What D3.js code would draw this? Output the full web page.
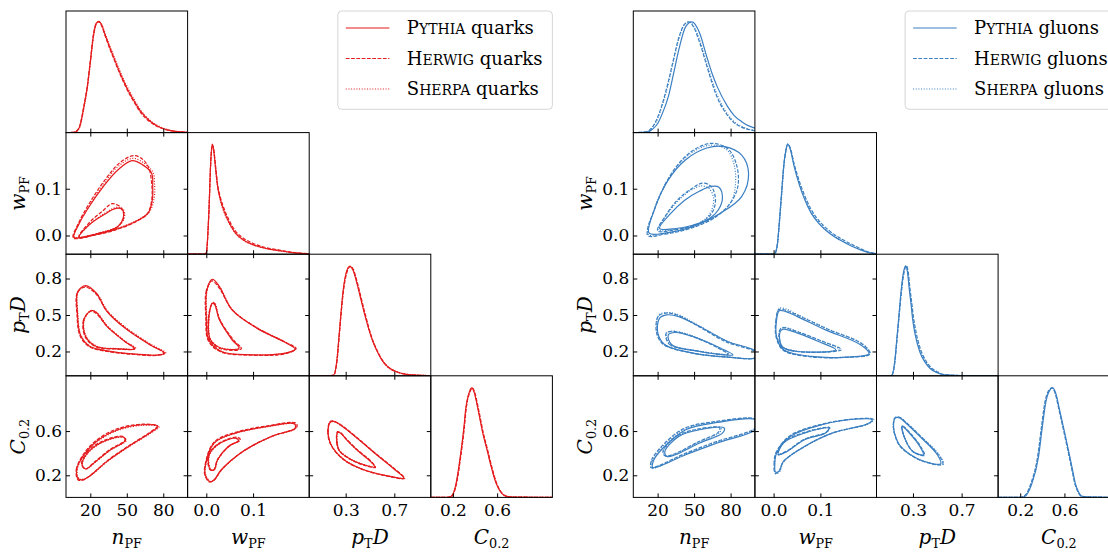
<!DOCTYPE html>
<html><head><meta charset="utf-8">
<script src="https://cdn.jsdelivr.net/npm/d3@7"></script>
<style>body{margin:0;background:#fff}</style></head>
<body><svg id="c" width="1108" height="554"></svg>
<script>
// ---------- axes ----------
const varDomains = [[0,100],[-0.04,0.22],[0,1],[0,1.1]];
const xTickValues = [[20,50,80],[0.0,0.1],[0.3,0.7],[0.2,0.6]];
const yTickValues = [[],[0.0,0.1],[0.2,0.5,0.8],[0.2,0.6]];
const generators = [["P","YTHIA"],["H","ERWIG"],["S","HERPA"]];

// ---------- 1D densities (fraction of panel height) ----------
const qN_P=[[0,0],[7,0.003],[10.9,0.04],[14.7,0.21],[17.6,0.38],[20,0.58],[22.6,0.8],[25,0.9],[27,0.915],[29.6,0.88],[32,0.81],[36,0.7],[40,0.6],[44,0.5],[48,0.41],[52,0.33],[56,0.26],[61,0.18],[69,0.095],[75,0.055],[81,0.03],[90,0.01],[100,0.003]];
const qN_H=[[0,0],[7,0.004],[10.9,0.045],[14.7,0.22],[17.6,0.39],[20,0.59],[22.6,0.81],[25,0.9],[27,0.91],[29.6,0.87],[32,0.8],[36,0.69],[40,0.59],[44,0.49],[48,0.4],[52,0.32],[56,0.25],[61,0.17],[69,0.088],[75,0.05],[81,0.027],[90,0.009],[100,0.003]];
const qN_S=[[0,0],[7,0.003],[10.9,0.035],[14.7,0.2],[17.6,0.37],[20,0.57],[22.6,0.79],[25,0.89],[27,0.91],[29.6,0.885],[32,0.82],[36,0.715],[40,0.615],[44,0.515],[48,0.425],[52,0.345],[56,0.275],[61,0.19],[69,0.102],[75,0.06],[81,0.033],[90,0.011],[100,0.003]];
const qW_P=[[-0.04,0],[-0.003,0],[0.0,0.01],[0.005,0.3],[0.01,0.8],[0.0128,0.905],[0.016,0.85],[0.02,0.7],[0.0243,0.556],[0.03,0.45],[0.0395,0.338],[0.05,0.25],[0.0624,0.173],[0.08,0.115],[0.1006,0.077],[0.13,0.045],[0.154,0.03],[0.18,0.015],[0.21,0.005],[0.22,0.003]];
const qW_H=[[-0.04,0],[-0.003,0],[0.0,0.01],[0.005,0.29],[0.01,0.79],[0.0128,0.9],[0.016,0.86],[0.02,0.72],[0.0243,0.57],[0.03,0.47],[0.0395,0.36],[0.05,0.27],[0.0624,0.19],[0.08,0.13],[0.1006,0.088],[0.13,0.052],[0.154,0.035],[0.18,0.018],[0.21,0.006],[0.22,0.003]];
const qW_S=[[-0.04,0],[-0.003,0],[0.0,0.012],[0.005,0.31],[0.01,0.8],[0.0128,0.9],[0.016,0.84],[0.02,0.69],[0.0243,0.55],[0.03,0.44],[0.0395,0.33],[0.05,0.245],[0.0624,0.17],[0.08,0.113],[0.1006,0.076],[0.13,0.045],[0.154,0.03],[0.18,0.015],[0.21,0.005],[0.22,0.003]];
const qP_P=[[0,0],[0.15,0],[0.2,0.005],[0.23,0.15],[0.245,0.323],[0.26,0.5],[0.274,0.652],[0.3,0.83],[0.333,0.9],[0.36,0.87],[0.39,0.77],[0.42,0.65],[0.46,0.49],[0.509,0.323],[0.55,0.22],[0.597,0.131],[0.65,0.07],[0.714,0.035],[0.8,0.012],[0.92,0.004],[1,0.002]];
const qP_H=[[0,0],[0.15,0],[0.2,0.004],[0.23,0.13],[0.245,0.3],[0.26,0.48],[0.274,0.63],[0.3,0.81],[0.34,0.9],[0.365,0.87],[0.395,0.77],[0.425,0.65],[0.465,0.49],[0.512,0.323],[0.553,0.22],[0.6,0.131],[0.652,0.07],[0.716,0.035],[0.8,0.012],[0.92,0.004],[1,0.002]];
const qP_S=[[0,0],[0.15,0],[0.2,0.005],[0.23,0.145],[0.245,0.318],[0.26,0.495],[0.274,0.648],[0.3,0.828],[0.335,0.9],[0.362,0.87],[0.392,0.77],[0.422,0.65],[0.462,0.49],[0.51,0.323],[0.551,0.22],[0.598,0.131],[0.65,0.07],[0.714,0.035],[0.8,0.012],[0.92,0.004],[1,0.002]];
const qC_P=[[0,0],[0.15,0],[0.186,0.01],[0.23,0.12],[0.267,0.337],[0.3,0.58],[0.315,0.72],[0.35,0.87],[0.371,0.9],[0.39,0.87],[0.428,0.72],[0.47,0.53],[0.509,0.39],[0.55,0.24],[0.59,0.118],[0.64,0.035],[0.687,0.008],[0.75,0.002],[1.1,0.001]];
const qC_H=[[0,0],[0.15,0],[0.19,0.01],[0.234,0.12],[0.271,0.337],[0.304,0.58],[0.319,0.72],[0.355,0.87],[0.376,0.9],[0.395,0.87],[0.433,0.72],[0.475,0.53],[0.514,0.39],[0.555,0.24],[0.595,0.118],[0.645,0.035],[0.692,0.008],[0.75,0.002],[1.1,0.001]];
const qC_S=[[0,0],[0.15,0],[0.188,0.01],[0.232,0.12],[0.269,0.337],[0.302,0.58],[0.317,0.72],[0.352,0.87],[0.373,0.9],[0.392,0.87],[0.43,0.72],[0.472,0.53],[0.511,0.39],[0.552,0.24],[0.592,0.118],[0.642,0.035],[0.69,0.008],[0.75,0.002],[1.1,0.001]];

const gN_P=[[0,0],[8,0.002],[11.6,0.005],[16,0.03],[20.2,0.077],[24,0.16],[28.8,0.296],[33,0.48],[37.4,0.68],[43.1,0.871],[48.3,0.91],[54.6,0.817],[60.4,0.624],[65,0.48],[69,0.378],[77.6,0.214],[83,0.14],[89.1,0.09],[95,0.055],[100,0.036]];
const gN_H=[[0,0],[8,0.003],[11.6,0.01],[16,0.05],[20.2,0.13],[24,0.24],[28.8,0.42],[33,0.6],[37.4,0.78],[42,0.89],[45.5,0.91],[50,0.86],[54.6,0.74],[60.4,0.55],[65,0.4],[69,0.29],[77.6,0.14],[83,0.08],[89.1,0.045],[95,0.025],[100,0.015]];
const gN_S=[[0,0],[8,0.003],[11.6,0.009],[16,0.045],[20.2,0.12],[24,0.23],[28.8,0.4],[33,0.59],[37.4,0.77],[42,0.885],[46,0.91],[50,0.87],[54.6,0.76],[60.4,0.57],[65,0.42],[69,0.31],[77.6,0.15],[83,0.09],[89.1,0.05],[95,0.028],[100,0.017]];
const gW_P=[[-0.04,0],[0.0,0],[0.0027,0.005],[0.008,0.08],[0.0138,0.338],[0.018,0.55],[0.0215,0.72],[0.026,0.85],[0.0303,0.905],[0.035,0.87],[0.044,0.72],[0.055,0.57],[0.0667,0.447],[0.08,0.34],[0.096,0.256],[0.12,0.17],[0.141,0.118],[0.165,0.07],[0.186,0.036],[0.205,0.012],[0.22,0.004]];
const gW_H=[[-0.04,0],[0.0,0],[0.0027,0.006],[0.008,0.085],[0.0138,0.34],[0.018,0.55],[0.0215,0.72],[0.026,0.85],[0.0303,0.905],[0.035,0.88],[0.044,0.74],[0.055,0.6],[0.0667,0.48],[0.08,0.37],[0.096,0.28],[0.12,0.19],[0.141,0.135],[0.165,0.085],[0.186,0.045],[0.205,0.016],[0.22,0.005]];
const gW_S=[[-0.04,0],[0.0,0],[0.0027,0.004],[0.008,0.07],[0.0138,0.31],[0.018,0.52],[0.0215,0.7],[0.026,0.84],[0.031,0.905],[0.036,0.87],[0.045,0.72],[0.056,0.575],[0.0667,0.46],[0.08,0.35],[0.096,0.265],[0.12,0.178],[0.141,0.124],[0.165,0.074],[0.186,0.038],[0.205,0.013],[0.22,0.004]];
const gP_P=[[0,0],[0.1,0],[0.126,0.005],[0.15,0.12],[0.169,0.323],[0.185,0.5],[0.198,0.652],[0.22,0.84],[0.241,0.904],[0.255,0.85],[0.27,0.707],[0.285,0.58],[0.298,0.46],[0.32,0.33],[0.355,0.2],[0.4,0.11],[0.441,0.06],[0.5,0.025],[0.556,0.008],[0.7,0.002],[1,0]];
const gP_H=[[0,0],[0.1,0],[0.126,0.004],[0.15,0.1],[0.169,0.3],[0.185,0.48],[0.2,0.64],[0.223,0.83],[0.245,0.904],[0.26,0.86],[0.275,0.72],[0.29,0.6],[0.303,0.49],[0.325,0.36],[0.36,0.225],[0.405,0.125],[0.446,0.07],[0.505,0.03],[0.56,0.01],[0.7,0.002],[1,0]];
const gP_S=[[0,0],[0.1,0],[0.126,0.004],[0.15,0.11],[0.169,0.31],[0.185,0.49],[0.199,0.645],[0.222,0.835],[0.243,0.904],[0.258,0.855],[0.273,0.715],[0.288,0.59],[0.301,0.475],[0.323,0.345],[0.358,0.215],[0.403,0.12],[0.444,0.066],[0.503,0.028],[0.558,0.009],[0.7,0.002],[1,0]];
const gC_P=[[0,0],[0.2,0],[0.24,0.008],[0.3,0.1],[0.366,0.337],[0.4,0.58],[0.43,0.776],[0.46,0.87],[0.493,0.9],[0.52,0.86],[0.556,0.72],[0.6,0.54],[0.635,0.392],[0.67,0.24],[0.698,0.118],[0.73,0.04],[0.761,0.008],[0.85,0.002],[1.1,0.001]];
const gC_H=[[0,0],[0.2,0],[0.235,0.01],[0.295,0.11],[0.36,0.35],[0.395,0.6],[0.425,0.79],[0.455,0.875],[0.488,0.9],[0.515,0.86],[0.551,0.72],[0.595,0.54],[0.63,0.392],[0.665,0.24],[0.693,0.118],[0.725,0.04],[0.756,0.008],[0.85,0.002],[1.1,0.001]];
const gC_S=[[0,0],[0.2,0],[0.237,0.01],[0.297,0.105],[0.362,0.345],[0.397,0.59],[0.427,0.785],[0.457,0.872],[0.49,0.9],[0.517,0.86],[0.553,0.72],[0.597,0.54],[0.632,0.392],[0.667,0.24],[0.695,0.118],[0.727,0.04],[0.758,0.008],[0.85,0.002],[1.1,0.001]];

// ---------- 2D contours (outer / inner), quarks ----------
const qNW_P_out=[[6.5,-0.004],[22,0.001],[39.6,0.012],[57.2,0.03],[67.5,0.048],[71,0.076],[71.3,0.105],[70.4,0.133],[63.1,0.151],[54.3,0.16],[42.6,0.14],[30.8,0.105],[19.1,0.062],[10.3,0.023]];
const qNW_H_out=[[6,-0.005],[22,0.0],[39.6,0.011],[57.2,0.029],[67,0.047],[70.5,0.076],[70.5,0.11],[68,0.145],[63,0.163],[56,0.171],[44,0.155],[31,0.115],[19,0.068],[10,0.025]];
const qNW_S_out=[[7,-0.003],[22,0.002],[39.6,0.013],[57.2,0.031],[68.5,0.05],[72.5,0.08],[72.8,0.11],[71.5,0.135],[64,0.155],[55,0.165],[43,0.148],[31,0.11],[19.5,0.065],[10.5,0.024]];
const qNW_P_in=[[10.9,-0.0035],[27.9,0.005],[42.6,0.019],[47,0.037],[46.4,0.055],[41.1,0.058],[30.8,0.044],[19.1,0.023]];
const qNW_H_in=[[10.5,-0.004],[28,0.005],[43,0.02],[47.5,0.04],[45,0.06],[38,0.068],[30,0.052],[19,0.027]];
const qNW_S_in=[[11,-0.003],[28,0.006],[43,0.02],[48,0.038],[47,0.056],[41.5,0.06],[31,0.046],[19.5,0.024]];
const qNP_P_out=[[16.2,0.742],[9.7,0.693],[9.4,0.515],[11.8,0.337],[19.1,0.246],[33.8,0.205],[57.2,0.178],[74.8,0.17],[81.3,0.186],[69,0.255],[48.5,0.392],[33.8,0.528],[25,0.679]];
const qNP_H_out=[[15.5,0.73],[9.2,0.68],[9,0.51],[11.5,0.33],[19,0.24],[33.8,0.2],[57.2,0.175],[75,0.168],[80.5,0.185],[68.5,0.26],[48,0.4],[33.5,0.535],[24.5,0.675]];
const qNP_S_out=[[16.5,0.735],[10,0.69],[9.8,0.51],[12.2,0.335],[19.5,0.245],[34,0.203],[57.5,0.177],[75.5,0.17],[82,0.188],[70,0.258],[49.5,0.395],[34.5,0.53],[25.5,0.675]];
const qNP_P_in=[[20.6,0.537],[14.7,0.46],[16.2,0.323],[25,0.241],[42.6,0.222],[56.6,0.222],[48.5,0.282],[33.8,0.405],[25,0.52]];
const qNP_H_in=[[20,0.53],[14.3,0.455],[15.8,0.32],[24.5,0.238],[42.6,0.22],[56,0.222],[48,0.285],[33.5,0.41],[24.5,0.515]];
const qNP_S_in=[[21,0.535],[15,0.46],[16.5,0.325],[25.5,0.243],[43,0.224],[57.5,0.224],[49,0.283],[34.5,0.405],[25.5,0.52]];
const qWP_P_out=[[0.013,0.794],[0.0013,0.707],[0,0.487],[0.005,0.296],[0.032,0.2],[0.093,0.173],[0.169,0.186],[0.19,0.219],[0.169,0.274],[0.108,0.392],[0.055,0.542],[0.028,0.734]];
const qWP_H_out=[[0.012,0.78],[0.0,0.7],[-0.001,0.48],[0.004,0.29],[0.03,0.198],[0.093,0.17],[0.17,0.182],[0.192,0.225],[0.172,0.27],[0.11,0.39],[0.056,0.54],[0.027,0.725]];
const qWP_S_out=[[0.014,0.79],[0.002,0.705],[0.001,0.485],[0.006,0.295],[0.033,0.2],[0.095,0.173],[0.171,0.187],[0.191,0.222],[0.17,0.276],[0.109,0.394],[0.056,0.544],[0.029,0.73]];
const qWP_P_in=[[0.0128,0.597],[0.005,0.46],[0.009,0.296],[0.032,0.227],[0.07,0.227],[0.055,0.296],[0.028,0.46],[0.017,0.597]];
const qWP_H_in=[[0.012,0.59],[0.004,0.455],[0.008,0.29],[0.031,0.222],[0.075,0.222],[0.058,0.295],[0.029,0.46],[0.017,0.59]];
const qWP_S_in=[[0.013,0.6],[0.0055,0.46],[0.0095,0.298],[0.033,0.228],[0.072,0.228],[0.056,0.298],[0.029,0.462],[0.018,0.6]];
const qNC_P_out=[[10.3,0.166],[8.8,0.25],[14.7,0.386],[25,0.506],[42.6,0.612],[63.1,0.657],[75.7,0.642],[69,0.582],[51.4,0.461],[33.8,0.326],[19.1,0.19],[13.8,0.16]];
const qNC_H_out=[[9.8,0.16],[8.4,0.25],[14.3,0.39],[24.5,0.512],[42,0.62],[63,0.662],[75,0.645],[68.5,0.585],[51,0.463],[33.5,0.328],[19,0.19],[13.5,0.155]];
const qNC_S_out=[[10.6,0.17],[9.2,0.25],[15,0.385],[25.5,0.503],[43,0.608],[63.5,0.652],[76.5,0.64],[69.5,0.58],[52,0.46],[34,0.325],[19.5,0.192],[14,0.163]];
const qNC_P_in=[[13.2,0.296],[17.6,0.401],[30.8,0.506],[47,0.546],[49,0.515],[36.7,0.431],[23.5,0.316],[16.2,0.257]];
const qNC_H_in=[[12.8,0.3],[17.2,0.408],[30.5,0.512],[46.5,0.552],[48.5,0.52],[36.3,0.434],[23.2,0.318],[15.8,0.258]];
const qNC_S_in=[[13.5,0.295],[18,0.4],[31,0.503],[47.5,0.543],[49.5,0.513],[37,0.43],[23.8,0.315],[16.5,0.257]];
const qWC_P_out=[[0.008,0.142],[-0.002,0.2],[-0.0024,0.28],[0.0166,0.492],[0.062,0.582],[0.131,0.642],[0.188,0.666],[0.19,0.627],[0.139,0.551],[0.078,0.416],[0.032,0.25],[0.017,0.16]];
const qWC_H_out=[[0.007,0.14],[-0.003,0.2],[-0.003,0.285],[0.016,0.498],[0.062,0.588],[0.131,0.648],[0.192,0.672],[0.193,0.632],[0.14,0.553],[0.079,0.418],[0.033,0.252],[0.017,0.158]];
const qWC_S_out=[[0.009,0.145],[-0.001,0.2],[-0.0015,0.28],[0.017,0.49],[0.063,0.58],[0.132,0.64],[0.189,0.664],[0.191,0.625],[0.14,0.55],[0.079,0.415],[0.033,0.25],[0.018,0.162]];
const qWC_P_in=[[0.009,0.25],[0.005,0.371],[0.024,0.476],[0.062,0.537],[0.0686,0.515],[0.047,0.461],[0.024,0.341],[0.017,0.25]];
const qWC_H_in=[[0.008,0.25],[0.004,0.375],[0.024,0.482],[0.066,0.545],[0.073,0.52],[0.049,0.463],[0.024,0.343],[0.016,0.25]];
const qWC_S_in=[[0.01,0.255],[0.006,0.372],[0.025,0.476],[0.063,0.536],[0.07,0.514],[0.048,0.46],[0.025,0.342],[0.018,0.255]];
const qPC_P_out=[[0.171,0.678],[0.155,0.6],[0.17,0.5],[0.22,0.41],[0.3,0.33],[0.45,0.25],[0.62,0.2],[0.778,0.175],[0.7,0.255],[0.55,0.39],[0.4,0.53],[0.274,0.642],[0.2,0.687]];
const qPC_H_out=[[0.17,0.685],[0.153,0.6],[0.168,0.5],[0.218,0.41],[0.3,0.328],[0.45,0.248],[0.62,0.198],[0.785,0.172],[0.705,0.256],[0.552,0.392],[0.4,0.535],[0.272,0.648],[0.198,0.692]];
const qPC_S_out=[[0.173,0.676],[0.157,0.598],[0.172,0.5],[0.222,0.41],[0.302,0.33],[0.452,0.25],[0.622,0.2],[0.78,0.176],[0.7,0.257],[0.55,0.392],[0.4,0.532],[0.276,0.64],[0.202,0.684]];
const qPC_P_in=[[0.235,0.59],[0.228,0.5],[0.25,0.42],[0.347,0.341],[0.45,0.295],[0.54,0.275],[0.5,0.33],[0.391,0.431],[0.3,0.53],[0.26,0.58]];
const qPC_H_in=[[0.233,0.595],[0.226,0.5],[0.248,0.42],[0.345,0.34],[0.45,0.292],[0.545,0.272],[0.505,0.33],[0.393,0.434],[0.3,0.535],[0.258,0.585]];
const qPC_S_in=[[0.237,0.588],[0.23,0.5],[0.252,0.422],[0.348,0.343],[0.452,0.296],[0.54,0.277],[0.5,0.332],[0.39,0.432],[0.302,0.53],[0.262,0.578]];

// ---------- 2D contours, gluons ----------
const gNW_P_out=[[13,0.005],[26,0.005],[48.9,0.019],[71.9,0.048],[89.1,0.083],[94.8,0.133],[89.1,0.172],[74.8,0.19],[60.4,0.187],[43.1,0.162],[28.8,0.119],[17.3,0.055]];
const gNW_H_out=[[12,0.0],[26,0.003],[48,0.016],[68,0.04],[80,0.07],[86,0.105],[85,0.15],[78,0.185],[64,0.197],[48,0.18],[32,0.135],[18,0.06]];
const gNW_S_out=[[12.5,0.002],[26,0.004],[48,0.017],[69,0.042],[81,0.075],[84,0.11],[83,0.15],[77,0.183],[63,0.193],[47,0.175],[31,0.13],[17.5,0.058]];
const gNW_P_in=[[21.6,0.015],[35,0.015],[48.9,0.022],[62,0.035],[70,0.055],[73.3,0.08],[70.4,0.103],[64,0.105],[54.6,0.095],[42,0.075],[30,0.045]];
const gNW_H_in=[[20,0.01],[34,0.012],[48,0.02],[60,0.035],[66,0.055],[67.5,0.08],[64,0.105],[57,0.112],[48,0.1],[36,0.075],[26,0.04]];
const gNW_S_in=[[20.5,0.012],[34,0.013],[48,0.02],[59,0.035],[64.5,0.055],[66,0.08],[62.5,0.1],[56,0.106],[47,0.096],[36,0.072],[26.5,0.04]];
const gNP_P_out=[[21.6,0.474],[20.2,0.351],[26,0.255],[48.9,0.187],[77.6,0.154],[101,0.15],[101,0.2],[77.6,0.282],[54.6,0.405],[37.4,0.487],[27.6,0.501]];
const gNP_H_out=[[20.5,0.49],[19,0.36],[24.5,0.26],[47,0.19],[76,0.155],[101,0.15],[101,0.19],[76,0.28],[53,0.41],[36,0.5],[26.5,0.515]];
const gNP_S_out=[[21,0.5],[19.5,0.365],[25,0.262],[47.5,0.19],[76.5,0.156],[101,0.152],[101,0.195],[77,0.285],[54,0.412],[36.5,0.505],[27,0.52]];
const gNP_P_in=[[28.8,0.337],[31.6,0.255],[54.6,0.2],[81.9,0.173],[71.9,0.227],[48.9,0.323],[34.5,0.356]];
const gNP_H_in=[[27,0.35],[29.5,0.26],[52,0.205],[78,0.177],[69,0.232],[47,0.33],[33,0.365]];
const gNP_S_in=[[27.5,0.352],[30,0.262],[52.5,0.206],[78.5,0.178],[69.5,0.233],[47.5,0.332],[33.5,0.367]];
const gWP_P_out=[[0.012,0.535],[0.006,0.45],[0.0064,0.323],[0.0213,0.214],[0.081,0.159],[0.156,0.154],[0.204,0.181],[0.186,0.255],[0.111,0.378],[0.051,0.487],[0.025,0.53]];
const gWP_H_out=[[0.011,0.545],[0.005,0.46],[0.005,0.325],[0.02,0.212],[0.08,0.156],[0.156,0.152],[0.206,0.18],[0.19,0.26],[0.115,0.385],[0.053,0.495],[0.025,0.54]];
const gWP_S_out=[[0.012,0.555],[0.006,0.465],[0.0055,0.328],[0.021,0.214],[0.081,0.158],[0.157,0.154],[0.206,0.182],[0.19,0.262],[0.114,0.388],[0.053,0.5],[0.026,0.55]];
const gWP_P_in=[[0.014,0.364],[0.018,0.241],[0.051,0.2],[0.133,0.214],[0.096,0.282],[0.051,0.351],[0.021,0.384]];
const gWP_H_in=[[0.013,0.375],[0.016,0.245],[0.05,0.2],[0.145,0.215],[0.1,0.29],[0.053,0.36],[0.02,0.395]];
const gWP_S_in=[[0.0135,0.38],[0.017,0.248],[0.05,0.202],[0.14,0.217],[0.098,0.292],[0.052,0.362],[0.021,0.398]];
const gNC_P_out=[[16,0.27],[16.5,0.33],[23.1,0.431],[43.1,0.612],[69,0.678],[101,0.7],[101,0.62],[69,0.492],[43.1,0.386],[23.1,0.29]];
const gNC_H_out=[[14.5,0.27],[15,0.335],[21.5,0.44],[41,0.62],[67,0.685],[101,0.705],[101,0.635],[67,0.5],[41,0.39],[21.5,0.29]];
const gNC_S_out=[[15,0.265],[15.5,0.33],[22,0.435],[42,0.618],[68,0.682],[101,0.703],[101,0.63],[68,0.497],[42,0.388],[22,0.285]];
const gNC_P_in=[[26,0.416],[37.4,0.552],[54.6,0.612],[74.8,0.627],[73.3,0.582],[54.6,0.492],[34.5,0.386],[27.6,0.371]];
const gNC_H_in=[[24.5,0.42],[36,0.558],[53,0.618],[71,0.63],[70,0.59],[53,0.5],[33,0.39],[26,0.376]];
const gNC_S_in=[[25,0.418],[36.5,0.556],[53.5,0.616],[72,0.628],[71,0.588],[53.5,0.498],[33.5,0.388],[26.5,0.374]];
const gWC_P_out=[[0.004,0.23],[0.0025,0.3],[0.0064,0.401],[0.036,0.552],[0.103,0.657],[0.178,0.709],[0.211,0.703],[0.201,0.666],[0.125,0.582],[0.066,0.461],[0.021,0.326],[0.012,0.24]];
const gWC_H_out=[[0.003,0.22],[0.001,0.3],[0.005,0.405],[0.035,0.558],[0.103,0.662],[0.178,0.712],[0.213,0.706],[0.203,0.668],[0.127,0.584],[0.067,0.462],[0.021,0.324],[0.011,0.23]];
const gWC_S_out=[[0.004,0.215],[0.002,0.3],[0.006,0.403],[0.036,0.555],[0.104,0.66],[0.18,0.711],[0.214,0.705],[0.204,0.667],[0.127,0.583],[0.067,0.461],[0.022,0.323],[0.012,0.228]];
const gWC_P_in=[[0.01,0.386],[0.021,0.492],[0.066,0.582],[0.118,0.627],[0.111,0.582],[0.066,0.522],[0.029,0.416]];
const gWC_H_in=[[0.009,0.39],[0.02,0.497],[0.066,0.588],[0.12,0.632],[0.112,0.588],[0.066,0.527],[0.028,0.42]];
const gWC_S_in=[[0.0095,0.388],[0.02,0.495],[0.066,0.586],[0.12,0.63],[0.112,0.586],[0.067,0.525],[0.029,0.418]];
const gPC_P_out=[[0.154,0.718],[0.14,0.642],[0.16,0.54],[0.198,0.461],[0.356,0.341],[0.528,0.305],[0.5,0.386],[0.356,0.552],[0.241,0.673],[0.19,0.72]];
const gPC_H_out=[[0.152,0.722],[0.138,0.645],[0.158,0.54],[0.198,0.458],[0.36,0.336],[0.545,0.3],[0.51,0.385],[0.36,0.555],[0.243,0.678],[0.188,0.725]];
const gPC_S_out=[[0.153,0.72],[0.139,0.643],[0.159,0.54],[0.2,0.458],[0.362,0.337],[0.55,0.3],[0.515,0.386],[0.362,0.556],[0.244,0.677],[0.19,0.723]];
const gPC_P_in=[[0.212,0.642],[0.227,0.552],[0.298,0.416],[0.385,0.386],[0.356,0.461],[0.27,0.582]];
const gPC_H_in=[[0.21,0.648],[0.225,0.556],[0.3,0.415],[0.395,0.38],[0.362,0.462],[0.272,0.588]];
const gPC_S_in=[[0.211,0.646],[0.226,0.554],[0.3,0.414],[0.392,0.382],[0.36,0.461],[0.271,0.586]];

// ---------- tables built from arrays ----------
const quarkDens=[{P:qN_P,H:qN_H,S:qN_S},{P:qW_P,H:qW_H,S:qW_S},{P:qP_P,H:qP_H,S:qP_S},{P:qC_P,H:qC_H,S:qC_S}];
const gluonDens=[{P:gN_P,H:gN_H,S:gN_S},{P:gW_P,H:gW_H,S:gW_S},{P:gP_P,H:gP_H,S:gP_S},{P:gC_P,H:gC_H,S:gC_S}];
const quarkCont={
 "1-0":{P:[qNW_P_out,qNW_P_in],H:[qNW_H_out,qNW_H_in],S:[qNW_S_out,qNW_S_in]},
 "2-0":{P:[qNP_P_out,qNP_P_in],H:[qNP_H_out,qNP_H_in],S:[qNP_S_out,qNP_S_in]},
 "2-1":{P:[qWP_P_out,qWP_P_in],H:[qWP_H_out,qWP_H_in],S:[qWP_S_out,qWP_S_in]},
 "3-0":{P:[qNC_P_out,qNC_P_in],H:[qNC_H_out,qNC_H_in],S:[qNC_S_out,qNC_S_in]},
 "3-1":{P:[qWC_P_out,qWC_P_in],H:[qWC_H_out,qWC_H_in],S:[qWC_S_out,qWC_S_in]},
 "3-2":{P:[qPC_P_out,qPC_P_in],H:[qPC_H_out,qPC_H_in],S:[qPC_S_out,qPC_S_in]}};
const gluonCont={
 "1-0":{P:[gNW_P_out,gNW_P_in],H:[gNW_H_out,gNW_H_in],S:[gNW_S_out,gNW_S_in]},
 "2-0":{P:[gNP_P_out,gNP_P_in],H:[gNP_H_out,gNP_H_in],S:[gNP_S_out,gNP_S_in]},
 "2-1":{P:[gWP_P_out,gWP_P_in],H:[gWP_H_out,gWP_H_in],S:[gWP_S_out,gWP_S_in]},
 "3-0":{P:[gNC_P_out,gNC_P_in],H:[gNC_H_out,gNC_H_in],S:[gNC_S_out,gNC_S_in]},
 "3-1":{P:[gWC_P_out,gWC_P_in],H:[gWC_H_out,gWC_H_in],S:[gWC_S_out,gWC_S_in]},
 "3-2":{P:[gPC_P_out,gPC_P_in],H:[gPC_H_out,gPC_H_in],S:[gPC_S_out,gPC_S_in]}};

// ---------- drawing ----------
const FONT = "'DejaVu Serif', serif";
const svg = d3.select("#c");
const CELL = 121.6;
const panels = [
  {x0:66, y0:11, color:"#e41a1c", word:"quarks", dens:quarkDens, cont:quarkCont, yLabX:25},
  {x0:633.3, y0:11, color:"#3a7fc1", word:"gluons", dens:gluonDens, cont:gluonCont, yLabX:592}
];
const styles = {P:null, H:"3.7,1.6", S:"1,1.65"};
const order = ["S","H","P"];
const fmts = [d3.format("d"), d3.format(".1f"), d3.format(".1f"), d3.format(".1f")];
const axisLabels = [
  [{t:"n",i:1},{t:"PF",s:1}],
  [{t:"w",i:1},{t:"PF",s:1}],
  [{t:"p",i:1},{t:"T",s:1},{t:"D",i:1}],
  [{t:"C",i:1},{t:"0.2",s:1}]
];
function mathText(sel, parts, fs, sub){
  const t = sel.append("text").attr("font-family", FONT).attr("font-size", fs).attr("fill","#000");
  let sh = 0;
  parts.forEach(p=>{
    const ts = t.append("tspan").text(p.t);
    if(p.i) ts.attr("font-style","italic");
    if(p.s){ ts.attr("font-size", fs*0.64).attr("dy", sub - sh); sh = sub; }
    else if(sh){ ts.attr("dy", -sh); sh = 0; }
  });
  return t;
}
let clipId = 0;
panels.forEach(pn=>{
  for(let r=0;r<4;r++){
    for(let c=0;c<=r;c++){
      const x0 = pn.x0 + c*CELL, y0 = pn.y0 + r*CELL;
      const g = svg.append("g");
      const id = "clip"+(clipId++);
      svg.append("clipPath").attr("id",id).append("rect").attr("x",x0).attr("y",y0).attr("width",CELL).attr("height",CELL);
      const xs = d3.scaleLinear().domain(varDomains[c]).range([x0, x0+CELL]);
      const plot = g.append("g").attr("clip-path","url(#"+id+")");
      let ys;
      if(r===c){
        ys = d3.scaleLinear().domain([0,1]).range([y0+CELL, y0]);
        const line = d3.line().x(d=>xs(d[0])).y(d=>ys(d[1])).curve(d3.curveMonotoneX);
        order.forEach(k=>{
          plot.append("path").attr("d", line(pn.dens[c][k])).attr("fill","none")
            .attr("stroke", pn.color).attr("stroke-width",1.2)
            .attr("stroke-dasharray", styles[k]);
        });
      } else {
        ys = d3.scaleLinear().domain(varDomains[r]).range([y0+CELL, y0]);
        const line = d3.line().x(d=>xs(d[0])).y(d=>ys(d[1])).curve(d3.curveCatmullRomClosed.alpha(0.5));
        const cc = pn.cont[r+"-"+c];
        order.forEach(k=>{
          cc[k].forEach(poly=>{
            plot.append("path").attr("d", line(poly)).attr("fill","none")
              .attr("stroke", pn.color).attr("stroke-width",1.2)
              .attr("stroke-dasharray", styles[k]);
          });
        });
      }
      g.append("rect").attr("x",x0).attr("y",y0).attr("width",CELL).attr("height",CELL)
        .attr("fill","none").attr("stroke","#000").attr("stroke-width",1);
      const tk = (axis, tr) => g.append("g").attr("transform",tr).call(axis)
        .call(a=>a.select(".domain").remove());
      tk(d3.axisBottom(xs).tickValues(xTickValues[c]).tickSize(-4).tickFormat(""), `translate(0,${y0+CELL})`);
      if(r!==c){
        tk(d3.axisTop(xs).tickValues(xTickValues[c]).tickSize(-4).tickFormat(""), `translate(0,${y0})`);
        tk(d3.axisLeft(ys).tickValues(yTickValues[r]).tickSize(-4).tickFormat(""), `translate(${x0},0)`);
        tk(d3.axisRight(ys).tickValues(yTickValues[r]).tickSize(-4).tickFormat(""), `translate(${x0+CELL},0)`);
      }
      if(r===3){
        const a = tk(d3.axisBottom(xs).tickValues(xTickValues[c]).tickSize(0).tickPadding(7).tickFormat(fmts[c]), `translate(0,${y0+CELL})`);
        a.attr("font-family",FONT).attr("font-size",17);
        mathText(svg, axisLabels[c], 20, 4).attr("x", x0+CELL/2).attr("y", 544).attr("text-anchor","middle");
      }
      if(c===0 && r>0){
        const a = tk(d3.axisLeft(ys).tickValues(yTickValues[r]).tickSize(0).tickPadding(4).tickFormat(fmts[r]), `translate(${x0},0)`);
        a.attr("font-family",FONT).attr("font-size",17);
        mathText(svg, axisLabels[r], 20, 4).attr("text-anchor","middle")
          .attr("transform", `translate(${pn.yLabX},${y0+CELL/2}) rotate(-90)`);
      }
    }
  }
  const LX = pn.x0 + 4*CELL - 214.6, LY = 11;
  const lg = svg.append("g");
  lg.append("rect").attr("x",LX).attr("y",LY).attr("width",214.6).attr("height",98.3)
    .attr("rx",4).attr("fill","#fff").attr("stroke","#d6d6d6").attr("stroke-width",1);
  ["P","H","S"].forEach((k,i)=>{
    const yy = LY + 17 + i*30.5;
    lg.append("line").attr("x1",LX+8).attr("x2",LX+51.6).attr("y1",yy).attr("y2",yy)
      .attr("stroke",pn.color).attr("stroke-width",1.2).attr("stroke-dasharray",styles[k]);
    const t = lg.append("text").attr("x",LX+69).attr("y",yy+6).attr("font-family",FONT).attr("font-size",18).attr("fill","#000");
    t.append("tspan").text(generators[i][0]);
    t.append("tspan").attr("font-size",14).text(generators[i][1]);
    t.append("tspan").text(" "+pn.word);
  });
});
</script></body></html>
